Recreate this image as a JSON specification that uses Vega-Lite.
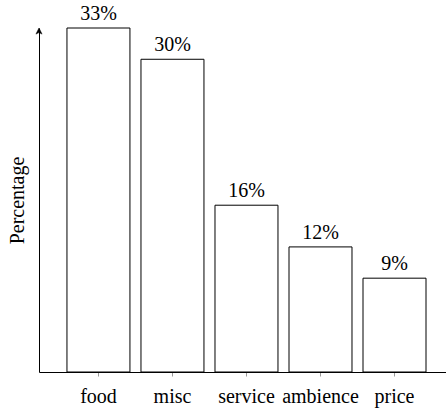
{
  "$schema": "https://vega.github.io/schema/vega-lite/v6.json",
  "autosize": {"type": "none"},
  "width": 407,
  "height": 344,
  "padding": {"left": 39, "top": 28, "right": 0, "bottom": 38},
  "background": "white",
  "config": {
    "view": {"stroke": null},
    "font": "Liberation Serif"
  },
  "data": {
    "values": [
      {"aspect": "food", "pct": 33, "label": "33%"},
      {"aspect": "misc", "pct": 30, "label": "30%"},
      {"aspect": "service", "pct": 16, "label": "16%"},
      {"aspect": "ambience", "pct": 12, "label": "12%"},
      {"aspect": "price", "pct": 9, "label": "9%"}
    ]
  },
  "encoding": {
    "x": {
      "field": "aspect",
      "type": "nominal",
      "sort": null,
      "scale": {"paddingInner": 0.149, "paddingOuter": 0.324, "align": 0.583},
      "axis": {
        "title": null,
        "labelAngle": 0,
        "labelFont": "Liberation Serif",
        "labelFontSize": 20,
        "labelColor": "black",
        "labelPadding": 10,
        "tickColor": "#999999",
        "tickSize": 4,
        "domainColor": "black",
        "domainWidth": 1
      }
    },
    "y": {
      "field": "pct",
      "type": "quantitative",
      "scale": {"domain": [0, 33], "nice": false},
      "axis": {
        "title": "Percentage",
        "titleFont": "Liberation Serif",
        "titleFontSize": 20,
        "titleFontWeight": "normal",
        "titleColor": "black",
        "titlePadding": 12,
        "labels": false,
        "ticks": false,
        "grid": false,
        "domainColor": "black",
        "domainWidth": 1
      }
    }
  },
  "layer": [
    {
      "mark": {"type": "bar", "fill": "white", "stroke": "black", "strokeWidth": 1}
    },
    {
      "mark": {"type": "text", "baseline": "alphabetic", "dy": -8, "fontSize": 20, "font": "Liberation Serif", "color": "black"},
      "encoding": {"text": {"field": "label", "type": "nominal"}}
    },
    {
      "data": {"values": [{"top": 33}]},
      "mark": {"type": "point", "shape": "M0,0 L0.5,1 L0,0.75 L-0.5,1 Z", "filled": true, "fill": "black", "stroke": "black", "strokeWidth": 0.5, "size": 150, "opacity": 1},
      "encoding": {"x": {"value": 0}, "y": {"field": "top", "type": "quantitative"}}
    }
  ]
}
